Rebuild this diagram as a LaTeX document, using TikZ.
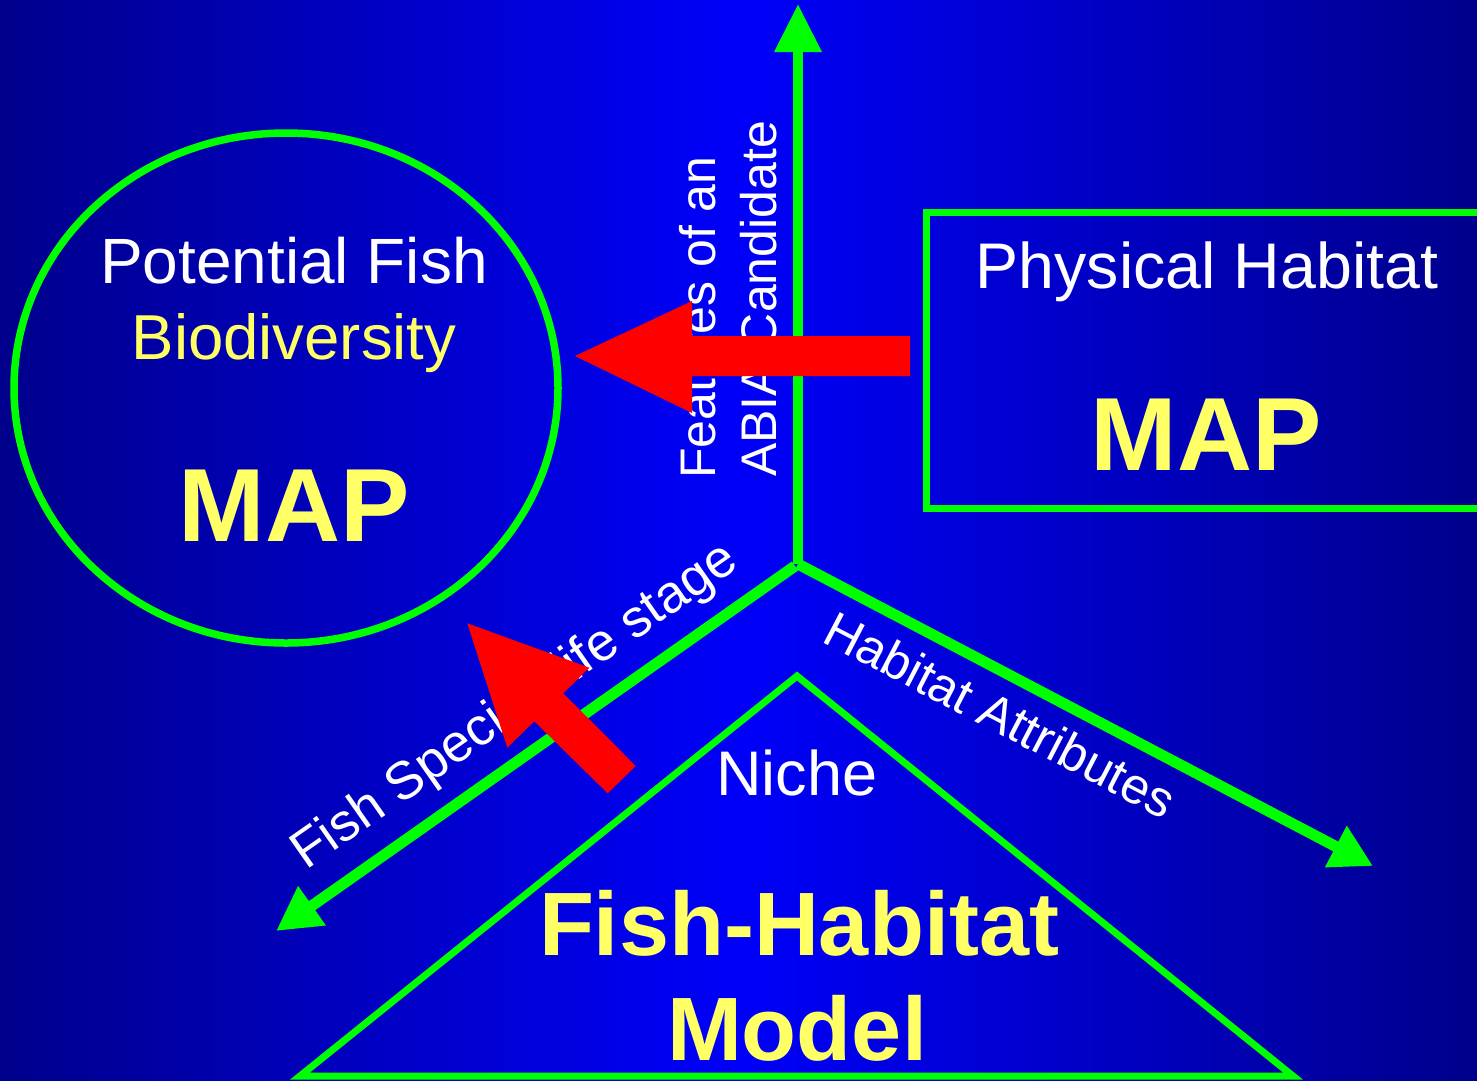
\documentclass[tikz,border=0pt]{standalone}
\usepackage{fontspec}
\setmainfont{Liberation Sans}
\usetikzlibrary{arrows.meta,shapes.geometric}
\definecolor{bgdark}{HTML}{00008C}
\definecolor{bgbright}{HTML}{0000FA}
\definecolor{lgreen}{HTML}{00FF00}
\definecolor{lyellow}{HTML}{FFFF66}
\definecolor{lred}{HTML}{FF0000}
\begin{document}
\begin{tikzpicture}[x=1pt,y=-1pt,
  frame/.style={draw=lgreen,line width=7pt},
  axisarrow/.style={draw=lgreen,line width=#1},
  plain/.style={text=white,inner sep=0pt,font=\fontsize{64}{64}\selectfont},
  yplain/.style={text=lyellow,inner sep=0pt,font=\fontsize{63.5}{64}\selectfont},
  bigmap/.style={text=lyellow,inner sep=0pt,font=\fontsize{104}{104}\selectfont\bfseries},
  modeltext/.style={text=lyellow,inner sep=0pt,font=\fontsize{90}{90}\selectfont\bfseries},
  axislabel/.style={text=white,inner sep=0pt,font=\fontsize{50}{50}\selectfont},
  blockarrow/.style={fill=lred,draw=none}]
\useasboundingbox (0,0) rectangle (1477,1080);
\clip (0,0) rectangle (1477,1080);
% background
\shade[left color=bgdark,right color=bgdark,middle color=bgbright] (0,0) rectangle (1477,1080);

% potential fish biodiversity map
\node[ellipse,draw=lgreen,line width=7.5pt,minimum width=544pt,minimum height=510pt,inner sep=0pt] (pfb) at (286,388) {};
\node[plain,anchor=base] (pfbt1) at (294,283) {Potential Fish};
\node[yplain,anchor=base] (pfbt2) at (294,359) {Biodiversity};
\node[bigmap,anchor=base] (pfbmap) at (294,541) {MAP};

% physical habitat map
\draw[frame] (926,212) rectangle (1500,508);
\coordinate (phb) at (926,360);
\node[plain,anchor=base,font=\fontsize{64.5}{65}\selectfont] (phbt) at (1207,288) {Physical Habitat};
\node[bigmap,anchor=base] (phbmap) at (1206,470) {MAP};

% fish-habitat model triangle
\coordinate (tA) at (797,676);
\coordinate (tB) at (1293,1076);
\coordinate (tC) at (300,1076);
\draw[frame,line join=miter] (tA) -- (tB) -- (tC) -- cycle;
\node[plain,anchor=base,font=\fontsize{63}{63}\selectfont] (niche) at (797,795) {Niche};
\node[modeltext,anchor=base] (fht) at (799,955) {Fish-Habitat};
\node[modeltext,anchor=base] (mdl) at (797,1060) {Model};

% axes
\coordinate (hub) at (797,564);
\coordinate (topt) at (798,4);
\coordinate (leftt) at (276,931);
\coordinate (rightt) at (1373,866);
\draw[axisarrow=10pt,-{Triangle[length=48pt,width=45pt]}] (798,564) -- (topt);
\draw[axisarrow=11pt,-{Triangle[length=44pt,width=45pt]}] (795,566) -- (leftt);
\draw[axisarrow=11pt,-{Triangle[length=42pt,width=44pt]}] (798,564) -- (rightt);

% axis labels
\node[axislabel,rotate=90,anchor=base west] (lab1) at (715,479) {Features of an};
\node[axislabel,rotate=90,anchor=base west] (lab2) at (776,477) {ABIA Candidate};
\node[axislabel,rotate=35,anchor=base west,font=\fontsize{53}{53}\selectfont] (lab3) at (306,871) {Fish Species/life stage};
\node[axislabel,rotate=-27.5,anchor=base west,font=\fontsize{50.5}{51}\selectfont] (lab4) at (820,641) {Habitat Attributes};

% red block arrows
\fill[blockarrow] (575,356) -- (692,301) -- (692,336) -- (910,336) -- (910,376) -- (692,376) -- (692,413) -- cycle;
\fill[blockarrow] (467.3,623.3) -- (589.3,667.7) -- (563.3,693.3) -- (635.7,766) -- (607.7,793.3) -- (534.3,721.3) -- (507.3,747.7) -- cycle;
\end{tikzpicture}
\end{document}
